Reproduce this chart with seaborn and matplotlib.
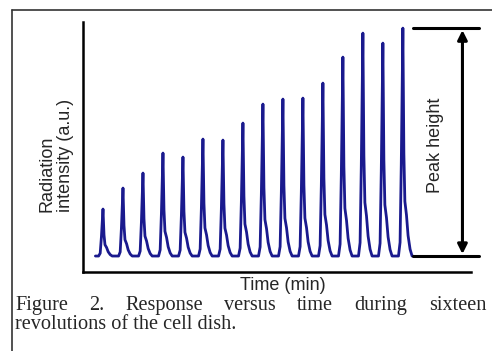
"""Radiation response of the cell dish over sixteen revolutions."""

import matplotlib

matplotlib.use("Agg")
import matplotlib.pyplot as plt
import numpy as np
import pandas as pd
import seaborn as sns

# one peak per revolution (time in revolution units, intensity in a.u.)
peak_times = list(range(1, 17))
peak_heights = [47, 68, 83, 103, 99, 117, 116, 133, 152, 157, 158, 173, 199, 223, 213, 228]

# shape of a single peak: offset from the apex, fraction of peak height
pulse_offsets = [-0.22, -0.14, -0.08, 0.0, 0.05, 0.10, 0.18, 0.26, 0.36, 0.46]
pulse_levels = [0.0, 0.06, 0.40, 1.0, 0.45, 0.24, 0.18, 0.09, 0.03, 0.0]

trace_start, trace_end = 0.62, 16.5

caption_line1 = "Figure 2. Response versus time during sixteen"
caption_line2 = "revolutions of the cell dish."

# build the trace table from the peaks
times = [trace_start]
values = [0.0]
for t0, h in zip(peak_times, peak_heights):
    for dt, lvl in zip(pulse_offsets, pulse_levels):
        times.append(t0 + dt)
        values.append(lvl * h)
times.append(trace_end)
values.append(0.0)
trace = pd.DataFrame({"time": times, "intensity": values})

sns.set_style("white")
plt.rcParams["font.family"] = ["Liberation Sans", "DejaVu Sans"]

fig = plt.figure(figsize=(4.92, 3.51), dpi=100)
ax = fig.add_axes([0.1687, 0.225, 0.957 - 0.1687, 0.937 - 0.225])

sns.lineplot(data=trace, x="time", y="intensity", color="#1a1a8e", lw=2.0, ax=ax)

ax.set_xlim(0, 19.4)
ax.set_ylim(-16, 234)
ax.set_xticks([])
ax.set_yticks([])
ax.set_xlabel("")
ax.set_ylabel("")
for side in ["top", "right"]:
    ax.spines[side].set_visible(False)
for side in ["left", "bottom"]:
    ax.spines[side].set_color("black")
    ax.spines[side].set_linewidth(1.8)

# peak height marker
top = max(peak_heights)
ax.plot([trace_end, 19.8], [0, 0], color="black", lw=2.2, clip_on=False)
ax.plot([trace_end, 19.8], [top, top], color="black", lw=2.2, clip_on=False)
ax.annotate(
    "",
    xy=(18.98, 2),
    xytext=(18.98, top - 2),
    arrowprops=dict(arrowstyle="<|-|>", color="black", lw=2.2, mutation_scale=14,
                    shrinkA=0, shrinkB=0),
    annotation_clip=False,
)
ax.text(17.64, 111, "Peak height", rotation=90, ha="center", va="center", fontsize=13)

# axis labels
fig.text(0.5813 - 0.006, (351 - 285) / 351, "Time (min)", ha="center", va="center", fontsize=13)
fig.text(56 / 492, (351 - 155) / 351, "Radiation\nintensity (a.u.)", rotation=90,
         ha="center", va="center", multialignment="left", fontsize=13, linespacing=1.15)

# outer frame (top and left edges visible)
fig.add_artist(plt.Line2D([12 / 492, 12 / 492], [0, 1 - 10 / 351], color="#333333", lw=1.2))
fig.add_artist(plt.Line2D([12 / 492, 1], [1 - 10 / 351, 1 - 10 / 351], color="#333333", lw=1.2))

# caption, first line justified
serif = ["Liberation Serif", "DejaVu Serif"]
renderer = fig.canvas.get_renderer()
words = caption_line1.split()
x_left, x_right = 15 / 492, 486 / 492
y1 = (351 - 310) / 351
texts = [fig.text(0, y1, w, fontsize=14.6, family=serif, va="baseline") for w in words]
widths = [t.get_window_extent(renderer).width / fig.bbox.width for t in texts]
gap = (x_right - x_left - sum(widths)) / (len(words) - 1)
x = x_left
for t, w in zip(texts, widths):
    t.set_x(x)
    x += w + gap
fig.text(x_left, (351 - 329) / 351, caption_line2, fontsize=14.6, family=serif, va="baseline")

fig.savefig("out.png", dpi=100)
